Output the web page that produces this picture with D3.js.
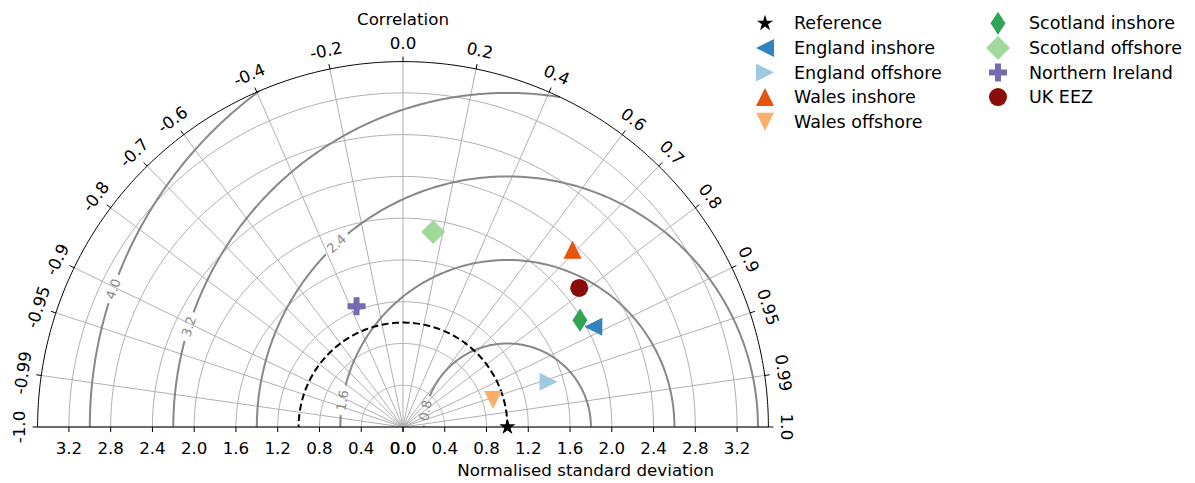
<!DOCTYPE html>
<html>
<head>
<meta charset="utf-8">
<script src="https://cdn.jsdelivr.net/npm/d3@7"></script>
<style>
  body { margin: 0; background: #fff; }
  svg text { font-family: "DejaVu Sans", sans-serif; fill: #000; }
</style>
</head>
<body>
<div id="canvas"></div>
<script>
// data
const regions = ["Reference", "England inshore", "England offshore", "Wales inshore", "Wales offshore",
                 "Scotland inshore", "Scotland offshore", "Northern Ireland", "UK EEZ"];
const stdValues  = [1.0, 2.06, 1.46, 2.35, 0.90, 1.98, 1.89, 1.24, 2.15];
const corrValues = [1.0, 0.885, 0.955, 0.691, 0.958, 0.856, 0.153, -0.359, 0.785];
const markerColors = ["#000000", "#3182bd", "#9ecae1", "#e6550d", "#fdae6b",
                      "#31a354", "#a1d99b", "#756bb1", "#8b0a0a"];
const markerShapes = ["star", "left", "right", "up", "down", "thin", "diamond", "plus", "circle"];

const corrTicks = [-1.0, -0.99, -0.95, -0.9, -0.8, -0.7, -0.6, -0.4, -0.2, 0.0,
                   0.2, 0.4, 0.6, 0.7, 0.8, 0.9, 0.95, 0.99, 1.0];
const corrTickLabels = ["-1.0", "-0.99", "-0.95", "-0.9", "-0.8", "-0.7", "-0.6", "-0.4", "-0.2", "0.0",
                        "0.2", "0.4", "0.6", "0.7", "0.8", "0.9", "0.95", "0.99", "1.0"];
const stdTicks = [0.0, 0.4, 0.8, 1.2, 1.6, 2.0, 2.4, 2.8, 3.2];
const gridRadii = [0.4, 0.8, 1.2, 1.6, 2.0, 2.4, 2.8, 3.2];
const rmsLevels = [0.8, 1.6, 2.4, 3.2, 4.0];
const rmsLabels = ["0.8", "1.6", "2.4", "3.2", "4.0"];
const stdMax = 3.5;

// layout
const W = 1195, H = 483;
const cx = 403, cy = 427, R = 365.4;
const labelAngles = [168.6, 170.8, 133.0, 162.5, 160.7]; // contour label spots (deg, around ref point)

const svg = d3.select("#canvas").append("svg")
    .attr("width", W).attr("height", H);

const x = d3.scaleLinear().domain([-stdMax, stdMax]).range([cx - R, cx + R]);
const y = d3.scaleLinear().domain([0, stdMax]).range([cy, cy - R]);
const k = R / stdMax;

const polar = (s, c) => [x(s * c), y(s * Math.sqrt(Math.max(0, 1 - c * c)))];
const line = d3.line().x(d => x(d[0])).y(d => y(d[1]));

// grid circles
const grid = svg.append("g");
gridRadii.forEach(r => {
    const pts = d3.range(0, 181).map(a => [r * Math.cos(a * Math.PI / 180), r * Math.sin(a * Math.PI / 180)]);
    grid.append("path").attr("d", line(pts))
        .attr("fill", "none").attr("stroke", "#b0b0b0").attr("stroke-width", 1);
});
// radial grid
corrTicks.forEach(c => {
    const p = polar(stdMax, c);
    grid.append("line").attr("x1", x(0)).attr("y1", y(0)).attr("x2", p[0]).attr("y2", p[1])
        .attr("stroke", "#b0b0b0").attr("stroke-width", 1);
});

// RMS contours round the reference (1,0)
const cont = svg.append("g");
rmsLevels.forEach((r, i) => {
    const cmax = (stdMax * stdMax - 1 - r * r) / (2 * r);
    const phiMin = cmax >= 1 ? 0 : Math.acos(Math.max(-1, cmax));
    const phiL = labelAngles[i] * Math.PI / 180;
    const gap = 15 / (r * k);
    const seg = (a0, a1) => {
        if (a1 <= a0) return;
        const n = 200;
        const pts = d3.range(n + 1).map(j => {
            const a = a0 + (a1 - a0) * j / n;
            return [1 + r * Math.cos(a), r * Math.sin(a)];
        });
        cont.append("path").attr("d", line(pts))
            .attr("fill", "none").attr("stroke", "#888").attr("stroke-width", 2);
    };
    seg(phiMin, phiL - gap);
    seg(phiL + gap, Math.PI);
    const lx = x(1 + r * Math.cos(phiL)), ly = y(r * Math.sin(phiL));
    const rot = 90 - labelAngles[i];
    cont.append("text").attr("transform", `translate(${lx},${ly}) rotate(${rot})`)
        .attr("text-anchor", "middle").attr("dominant-baseline", "central")
        .attr("font-size", "13px").style("fill", "#888").text(rmsLabels[i]);
});

// dashed reference circle
const refPts = d3.range(0, 181).map(a => [Math.cos(a * Math.PI / 180), Math.sin(a * Math.PI / 180)]);
svg.append("path").attr("d", line(refPts))
    .attr("fill", "none").attr("stroke", "#000").attr("stroke-width", 2).attr("stroke-dasharray", "7,3.5");

// outer frame
const outer = d3.range(0, 361).map(a => [stdMax * Math.cos(a * Math.PI / 360), stdMax * Math.sin(a * Math.PI / 360)]);
svg.append("path").attr("d", line(outer)).attr("fill", "none").attr("stroke", "#000").attr("stroke-width", 1);
svg.append("line").attr("x1", x(-stdMax)).attr("x2", x(stdMax)).attr("y1", y(0)).attr("y2", y(0))
    .attr("stroke", "#000").attr("stroke-width", 1);

// correlation ticks + labels
corrTicks.forEach((c, i) => {
    const th = Math.acos(c);
    const ux = Math.cos(th), uy = -Math.sin(th);
    svg.append("line")
        .attr("x1", x(0) + ux * R).attr("y1", y(0) + uy * R)
        .attr("x2", x(0) + ux * (R + 5)).attr("y2", y(0) + uy * (R + 5))
        .attr("stroke", "#000").attr("stroke-width", 1);
    const lr = R + 19;
    svg.append("text")
        .attr("transform", `translate(${x(0) + ux * lr},${y(0) + uy * lr}) rotate(${90 - th * 180 / Math.PI})`)
        .attr("text-anchor", "middle").attr("dominant-baseline", "central")
        .attr("font-size", "16.7px").text(corrTickLabels[i]);
});

// std ticks, both sides
const stdAxis = svg.append("g");
[-1, 1].forEach(sg => {
    stdTicks.forEach(s => {
        stdAxis.append("line").attr("x1", x(sg * s)).attr("x2", x(sg * s))
            .attr("y1", y(0)).attr("y2", y(0) + 5).attr("stroke", "#000").attr("stroke-width", 1);
        stdAxis.append("text").attr("x", x(sg * s)).attr("y", y(0) + 21)
            .attr("text-anchor", "middle").attr("dominant-baseline", "central")
            .attr("font-size", "16.7px").text(s.toFixed(1));
    });
});

// titles
svg.append("text").attr("x", x(0)).attr("y", 19).attr("text-anchor", "middle")
    .attr("dominant-baseline", "central").attr("font-size", "16.7px").text("Correlation");
svg.append("text").attr("x", x(stdMax / 2)).attr("y", 470).attr("text-anchor", "middle")
    .attr("dominant-baseline", "central").attr("font-size", "16.7px").text("Normalised standard deviation");

// marker shapes (size = markersize^2)
const poly = pts => ({ draw(ctx, size) {
    const h = Math.sqrt(size) / 2;
    ctx.moveTo(pts[0][0] * h, pts[0][1] * h);
    for (let j = 1; j < pts.length; j++) ctx.lineTo(pts[j][0] * h, pts[j][1] * h);
    ctx.closePath();
}});
const t = 1 / 3;
const shapeTypes = {
    up: poly([[0, -1], [1, 1], [-1, 1]]),
    down: poly([[0, 1], [1, -1], [-1, -1]]),
    left: poly([[-1, 0], [1, -1], [1, 1]]),
    right: poly([[1, 0], [-1, -1], [-1, 1]]),
    diamond: poly([[0, -1.33], [1.33, 0], [0, 1.33], [-1.33, 0]]),
    thin: poly([[0, -1.28], [0.83, 0], [0, 1.28], [-0.83, 0]]),
    plus: poly([[-t, -1], [t, -1], [t, -t], [1, -t], [1, t], [t, t], [t, 1], [-t, 1], [-t, t], [-1, t], [-1, -t], [-t, -t]]),
    circle: { draw(ctx, size) { const h = Math.sqrt(size) / 2; ctx.moveTo(h, 0); ctx.arc(0, 0, h, 0, 2 * Math.PI); } },
    star: { draw(ctx, size) {
        const ro = Math.sqrt(size) / 2, ri = ro * 0.382;
        for (let j = 0; j < 10; j++) {
            const a = -Math.PI / 2 + j * Math.PI / 5, rr = j % 2 ? ri : ro;
            j ? ctx.lineTo(rr * Math.cos(a), rr * Math.sin(a)) : ctx.moveTo(rr * Math.cos(a), rr * Math.sin(a));
        }
        ctx.closePath();
    }}
};
const msize = i => (markerShapes[i] === "star" ? 17 : 18) ** 2;

// data markers
regions.forEach((name, i) => {
    const p = polar(stdValues[i], corrValues[i]);
    svg.append("path").attr("transform", `translate(${p[0]},${p[1]})`)
        .attr("d", d3.symbol().type(shapeTypes[markerShapes[i]]).size(msize(i))())
        .attr("fill", markerColors[i]);
});

// legend
const leg = svg.append("g");
regions.forEach((name, i) => {
    const col = i < 5 ? 0 : 1, row = i < 5 ? i : i - 5;
    const mx = col ? 998 : 765, ty = 23.3 + row * 24.6;
    leg.append("path").attr("transform", `translate(${mx},${ty})`)
        .attr("d", d3.symbol().type(shapeTypes[markerShapes[i]]).size(msize(i))())
        .attr("fill", markerColors[i]);
    leg.append("text").attr("x", col ? 1029 : 794).attr("y", ty)
        .attr("dominant-baseline", "central").attr("font-size", "17.5px").text(name);
});
</script>
</body>
</html>
